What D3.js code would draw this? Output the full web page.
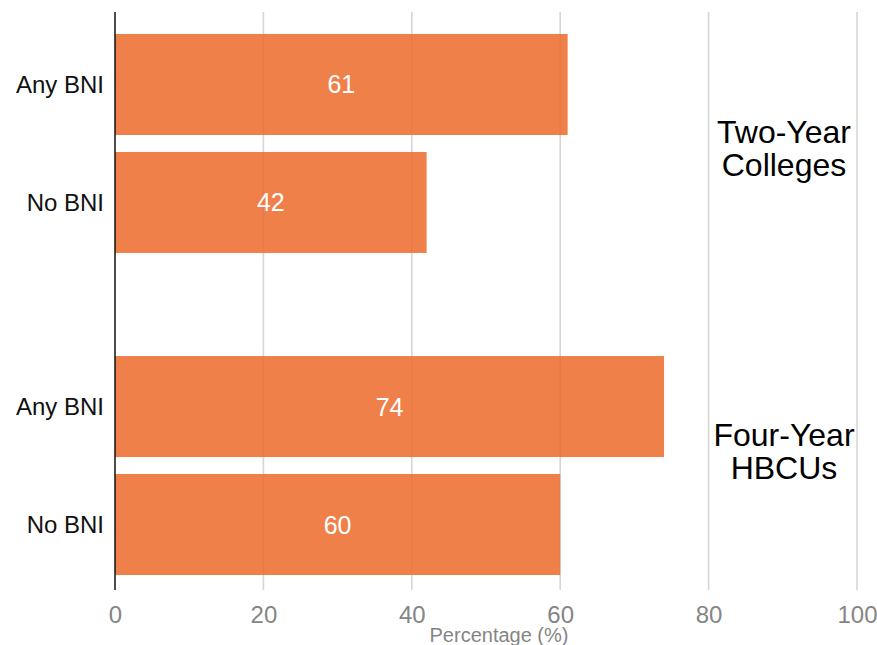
<!DOCTYPE html>
<html><head><meta charset="utf-8">
<script src="https://cdn.jsdelivr.net/npm/d3@7"></script>
<style>body{margin:0;background:#fff}svg{display:block;font-family:"Liberation Sans",Arial,sans-serif}</style>
</head><body><svg id="c" width="877" height="645"></svg>
<script>
const groups = ["Two-Year Colleges", "Four-Year HBCUs"];
const groupLines = [["Two-Year", "Colleges"], ["Four-Year", "HBCUs"]];
const categories = ["Any BNI", "No BNI"];
const twoYearValues = [61, 42];
const fourYearValues = [74, 60];
const xTicks = [0, 20, 40, 60, 80, 100];
const xTitle = "Percentage (%)";

const seriesByGroup = [twoYearValues, fourYearValues];
const svg = d3.select("#c");
const x = d3.scaleLinear().domain([0, 100]).range([115, 857]);
const y0 = d3.scaleBand().domain(groups).range([34, 575]).paddingInner(0.32).paddingOuter(0);
const y1 = d3.scaleBand().domain(categories).range([0, y0.bandwidth()]).paddingInner(0.144).paddingOuter(0);

// grid
svg.append("g").selectAll("line").data(xTicks.filter(d => d > 0)).join("line")
  .attr("x1", d => x(d)).attr("x2", d => x(d)).attr("y1", 12).attr("y2", 590)
  .attr("stroke", "#d6d6d6").attr("stroke-width", 1.6);

// axis ticks
const xAxis = d3.axisBottom(x).tickValues(xTicks).tickSize(0).tickPadding(0);
const ax = svg.append("g").attr("transform", "translate(0,623)").call(xAxis);
ax.select(".domain").remove();
ax.selectAll("text").attr("dy", 0).attr("y", 0).attr("fill", "#858585")
  .style("font-size", "24px").style("font-family", "Liberation Sans, Arial, sans-serif");

svg.append("text").attr("x", 499).attr("y", 642).attr("text-anchor", "middle")
  .attr("fill", "#858585").style("font-size", "20px").text(xTitle);

// bars
const rows = [];
groups.forEach((g, gi) => categories.forEach((c, ci) => rows.push({g, gi, c, v: seriesByGroup[gi][ci]})));

const bars = svg.append("g");
bars.selectAll("rect").data(rows).join("rect")
  .attr("x", x(0)).attr("y", d => y0(d.g) + y1(d.c))
  .attr("width", d => x(d.v) - x(0)).attr("height", y1.bandwidth())
  .attr("fill", "#ED6A2A").attr("fill-opacity", 0.85);

bars.selectAll("text.val").data(rows).join("text").attr("class", "val")
  .attr("x", d => x(d.v / 2)).attr("y", d => y0(d.g) + y1(d.c) + y1.bandwidth() / 2)
  .attr("dy", "0.36em").attr("text-anchor", "middle").attr("fill", "#fff")
  .style("font-size", "25px").text(d => d.v);

// category labels
svg.append("g").selectAll("text").data(rows).join("text")
  .attr("x", 104).attr("y", d => y0(d.g) + y1(d.c) + y1.bandwidth() / 2)
  .attr("dy", "0.36em").attr("text-anchor", "end").attr("fill", "#111")
  .style("font-size", "24px").text(d => d.c);

// y axis line
svg.append("line").attr("x1", x(0)).attr("x2", x(0)).attr("y1", 12).attr("y2", 590)
  .attr("stroke", "#111").attr("stroke-width", 1.5);

// group labels
const labelShift = [-0.5, -19.5];
const gl = svg.append("g").selectAll("text").data(groups).join("text")
  .attr("x", 784).attr("text-anchor", "middle").attr("fill", "#000").style("font-size", "32px")
  .attr("y", (d, i) => y0(d) + y0.bandwidth() / 2 + labelShift[i]);
gl.each(function(d, i) {
  const t = d3.select(this);
  groupLines[i].forEach((line, li) => {
    t.append("tspan").attr("x", 784).attr("dy", li === 0 ? 0 : 33).text(line);
  });
});
</script></body></html>
